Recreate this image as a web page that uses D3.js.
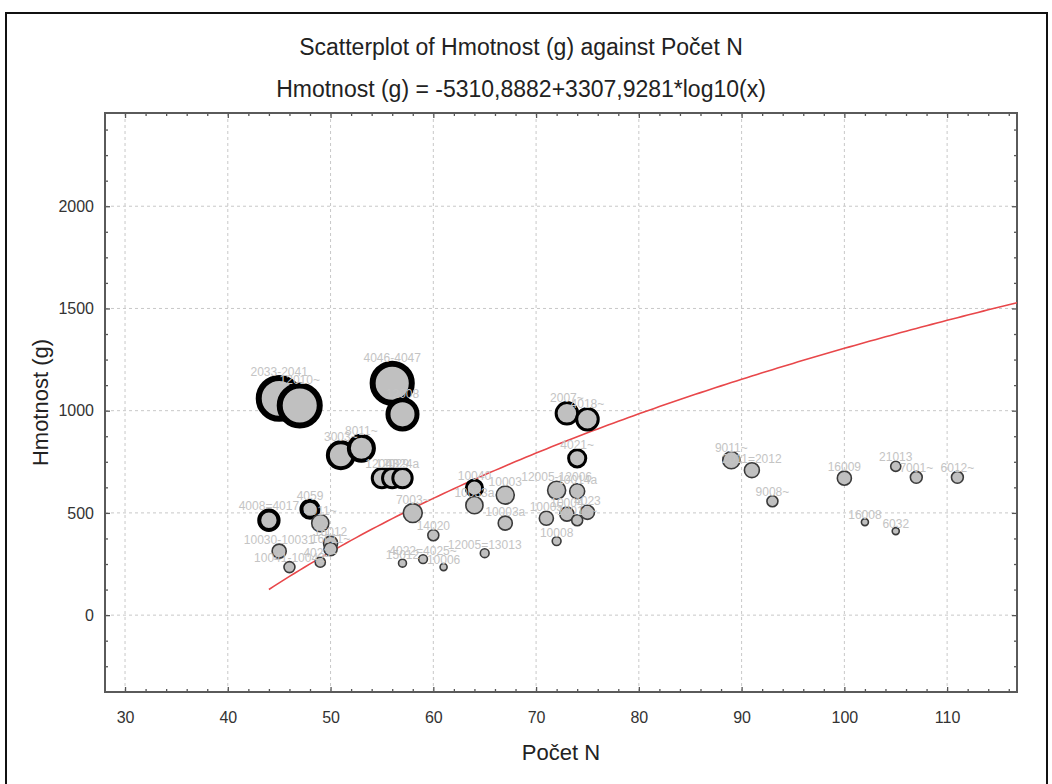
<!DOCTYPE html>
<html>
<head>
<meta charset="utf-8">
<script src="https://cdn.jsdelivr.net/npm/d3@7"></script>
<style>
	body { margin: 0; background: #fff; }
	svg text { font-family: "Liberation Sans", Arial, sans-serif; }
</style>
</head>
<body>
<svg id="chart" width="1052" height="784"></svg>
<script>
// sample labels (case ids)
var labels = ["2033-2041", "12010~", "4046-4047", "12008", "3003~", "8011~", "12003", "12029", "4024a",
	"4008=4017", "4059", "4011~", "16012", "16011~", "10030-10031", "10041-10042", "4023~",
	"7003~", "14020", "15012", "4022=4025~", "10006", "12005=13013", "10040", "10033a",
	"10003", "10003a", "10005", "10008", "12005-12006", "10014a", "10004", "10015~", "4023",
	"2007~", "4018~", "4021~", "9011~", "2011=2012", "9008~", "16009", "21013", "7001~",
	"6012~", "16008", "6032"];
// Počet N
var pocetN = [45, 47, 56, 57, 51, 53, 55, 56, 57,
	44, 48, 49, 50, 50, 45, 46, 49,
	58, 60, 57, 59, 61, 65, 64, 64,
	67, 67, 71, 72, 72, 74, 73, 74, 75,
	73, 75, 74, 89, 91, 93, 100, 105, 107,
	111, 102, 105];
// Hmotnost (g)
var hmotnost = [1060, 1025, 1134, 982, 782, 816, 670, 670, 670,
	464, 518, 450, 352, 323, 313, 235, 259,
	499, 391, 254, 274, 235, 303, 621, 538,
	587, 450, 474, 362, 611, 606, 494, 464, 503,
	987, 958, 767, 758, 709, 557, 670, 728, 674,
	674, 455, 411];
// bubble size variable
var velikost = [93, 91, 89, 66, 59, 57, 44, 44, 44,
	44, 39, 39, 32, 30, 32, 25, 23,
	43, 25, 18, 20, 16, 20, 37, 39,
	41, 32, 32, 20, 41, 34, 32, 25, 32,
	49, 49, 39, 39, 34, 25, 32, 23, 27,
	27, 16, 16];
// number of overlapping cases drawn at the same spot
var prekryv = [6, 6, 6, 5, 4, 4, 3, 3, 3,
	4, 4, 1, 1, 1, 1, 1, 1,
	1, 1, 1, 1, 1, 1, 3, 1,
	1, 1, 1, 1, 1, 1, 1, 1, 1,
	3, 3, 3, 1, 1, 1, 1, 1, 1,
	1, 1, 1];

var xTicks = [30, 40, 50, 60, 70, 80, 90, 100, 110];
var yTicks = [0, 500, 1000, 1500, 2000];

// fitted model: Hmotnost = a + b*log10(x)
var fitA = -5310.8882;
var fitB = 3307.9281;

var title = "Scatterplot of Hmotnost (g) against Počet N";
var subtitle = "Hmotnost (g) = -5310,8882+3307,9281*log10(x)";

var svg = d3.select("#chart");
var plot = { left: 105, top: 113, right: 1017, bottom: 692 };

var x = d3.scaleLinear().domain([28.05, 116.8]).range([plot.left, plot.right]);
var y = d3.scaleLinear().domain([-376, 2456]).range([plot.bottom, plot.top]);
var r = d3.scaleLinear().domain([0, 100]).range([0, 22]);

// outer frame of the picture
svg.append("path")
	.attr("d", "M6,790 L6,13 L1047,13 L1047,790")
	.attr("fill", "none")
	.attr("stroke", "#111")
	.attr("stroke-width", 2);

svg.append("text").text(title)
	.attr("x", 521).attr("y", 55)
	.attr("text-anchor", "middle")
	.attr("font-size", 23)
	.attr("fill", "#222");
svg.append("text").text(subtitle)
	.attr("x", 521).attr("y", 97)
	.attr("text-anchor", "middle")
	.attr("font-size", 23)
	.attr("fill", "#222");

// grid
var grid = svg.append("g").attr("stroke", "#c8c8c8").attr("stroke-dasharray", "3,3");
xTicks.forEach(function(t) {
	grid.append("line").attr("x1", x(t)).attr("x2", x(t)).attr("y1", plot.top).attr("y2", plot.bottom);
});
yTicks.forEach(function(t) {
	grid.append("line").attr("y1", y(t)).attr("y2", y(t)).attr("x1", plot.left).attr("x2", plot.right);
});

// axes with ticks pointing inward on all four sides
var w = plot.right - plot.left, h = plot.bottom - plot.top;
var minorX = d3.range(30, 117, 2).filter(function(t) { return t % 10 != 0; });
var minorY = d3.range(-375, 2456, 125).filter(function(t) { return t % 500 != 0; });

function styleAxis(g, size) {
	g.select(".domain").remove();
	g.selectAll("line").attr("stroke", "#555").attr("stroke-width", 1.3);
	g.selectAll("text").attr("font-size", 16).attr("fill", "#333").attr("font-family", "Liberation Sans, Arial");
}
svg.append("g").attr("transform", "translate(0," + plot.bottom + ")")
	.call(d3.axisBottom(x).tickValues(xTicks).tickSize(-5).tickPadding(20).tickFormat(d3.format("d")))
	.call(styleAxis);
svg.append("g").attr("transform", "translate(0," + plot.bottom + ")")
	.call(d3.axisBottom(x).tickValues(minorX).tickSize(-3).tickFormat(""))
	.call(styleAxis);
svg.append("g").attr("transform", "translate(0," + plot.top + ")")
	.call(d3.axisTop(x).tickValues(xTicks).tickSize(-5).tickFormat(""))
	.call(styleAxis);
svg.append("g").attr("transform", "translate(0," + plot.top + ")")
	.call(d3.axisTop(x).tickValues(minorX).tickSize(-3).tickFormat(""))
	.call(styleAxis);
svg.append("g").attr("transform", "translate(" + plot.left + ",0)")
	.call(d3.axisLeft(y).tickValues(yTicks).tickSize(-5).tickPadding(11).tickFormat(d3.format("d")))
	.call(styleAxis);
svg.append("g").attr("transform", "translate(" + plot.left + ",0)")
	.call(d3.axisLeft(y).tickValues(minorY).tickSize(-3).tickFormat(""))
	.call(styleAxis);
svg.append("g").attr("transform", "translate(" + plot.right + ",0)")
	.call(d3.axisRight(y).tickValues(yTicks).tickSize(-5).tickFormat(""))
	.call(styleAxis);
svg.append("g").attr("transform", "translate(" + plot.right + ",0)")
	.call(d3.axisRight(y).tickValues(minorY).tickSize(-3).tickFormat(""))
	.call(styleAxis);

svg.append("rect")
	.attr("x", plot.left).attr("y", plot.top).attr("width", w).attr("height", h)
	.attr("fill", "none").attr("stroke", "#5a5a5a").attr("stroke-width", 2);

svg.append("text").text("Počet N")
	.attr("x", (plot.left + plot.right) / 2).attr("y", 760)
	.attr("text-anchor", "middle").attr("font-size", 22).attr("fill", "#222");
svg.append("text").text("Hmotnost (g)")
	.attr("transform", "translate(48," + ((plot.top + plot.bottom) / 2) + ") rotate(-90)")
	.attr("text-anchor", "middle").attr("font-size", 22).attr("fill", "#222");

svg.append("clipPath").attr("id", "clip").append("rect")
	.attr("x", plot.left).attr("y", plot.top).attr("width", w).attr("height", h);

var layer = svg.append("g").attr("clip-path", "url(#clip)");

// fitted curve
var fitX = d3.range(44, 117.01, 0.5);
var line = d3.line()
	.x(function(d) { return x(d); })
	.y(function(d) { return y(fitA + fitB * Math.log10(d)); });
layer.append("path").datum(fitX)
	.attr("d", line)
	.attr("fill", "none")
	.attr("stroke", "#e8474a")
	.attr("stroke-width", 1.6);

var points = labels.map(function(l, i) {
	return { label: l, x: pocetN[i], y: hmotnost[i], size: velikost[i], n: prekryv[i] };
});
var strokeW = function(n) { return n > 1 ? n : 1.6; };

layer.selectAll("circle.bubble").data(points).enter().append("circle")
	.attr("class", "bubble")
	.attr("cx", function(d) { return x(d.x); })
	.attr("cy", function(d) { return y(d.y); })
	.attr("r", function(d) { return r(d.size); })
	.attr("fill", "#c0c0c0")
	.attr("stroke", function(d) { return d.n > 1 ? "#000" : "#3a3a3a"; })
	.attr("stroke-width", function(d) { return strokeW(d.n); });

layer.selectAll("text.lbl").data(points).enter().append("text")
	.attr("class", "lbl")
	.text(function(d) { return d.label; })
	.attr("x", function(d) { return x(d.x); })
	.attr("y", function(d) { return y(d.y) - r(d.size) - strokeW(d.n) / 2 + 1; })
	.attr("text-anchor", "middle")
	.attr("font-size", 12)
	.attr("fill", "#c4c4c4");
</script>
</body>
</html>
